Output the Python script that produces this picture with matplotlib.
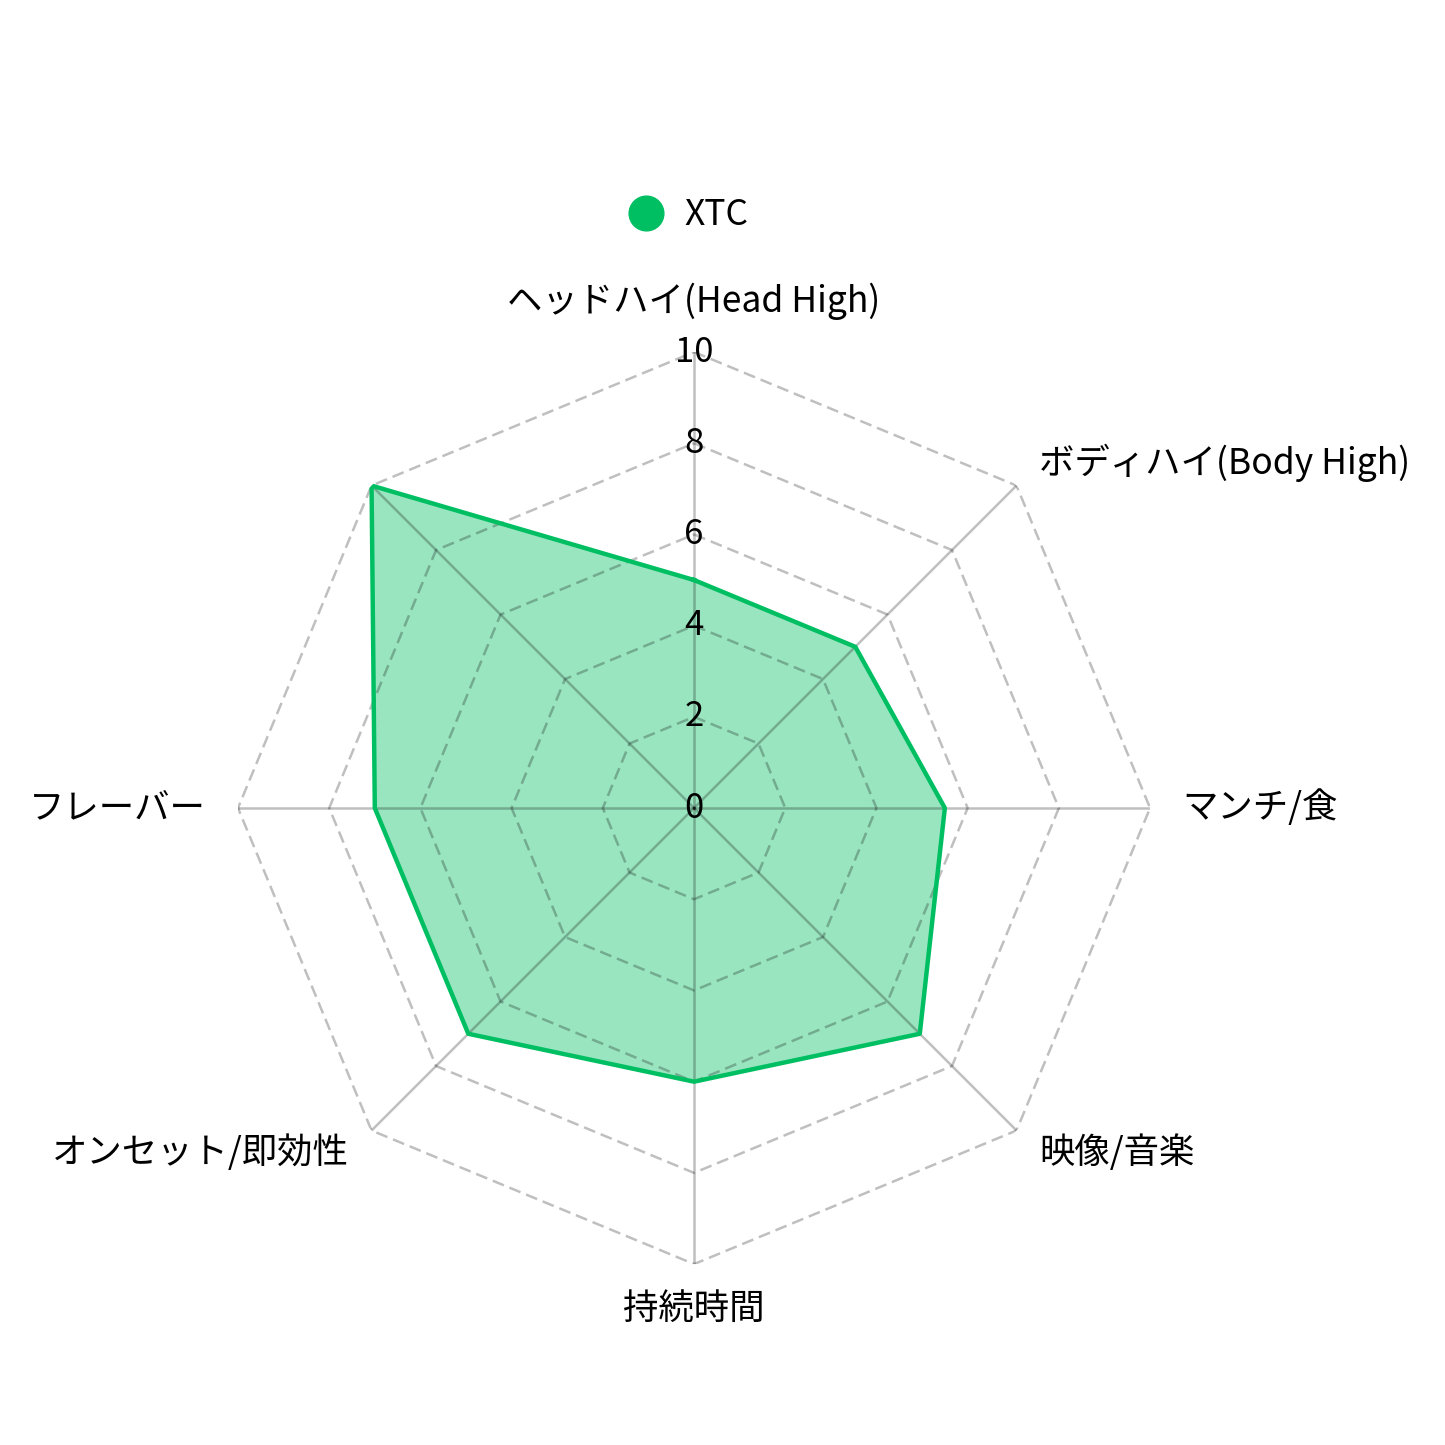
import numpy as np
import matplotlib.pyplot as plt
from matplotlib.lines import Line2D

plt.rcParams['font.family'] = ['Noto Sans CJK JP', 'DejaVu Sans']

categories = ["ヘッドハイ(Head High)", "ボディハイ(Body High)", "マンチ/食", "映像/音楽",
              "持続時間", "オンセット/即効性", "フレーバー", ""]
values = [5, 5, 5.5, 7, 6, 7, 7, 10]
ticks = [0, 2, 4, 6, 8, 10]
series_name = "XTC"
color = "#00BF63"

n = len(categories)
angles = np.linspace(0, 2 * np.pi, n, endpoint=False)

fig = plt.figure(figsize=(14.45, 14.45), dpi=100)
ax = fig.add_axes([0.1647, 0.1252, 0.6312, 0.6312], projection="polar")
ax.set_theta_zero_location("N")
ax.set_theta_direction(-1)
ax.set_ylim(0, 10)
ax.axis("off")

# data
closed = np.append(angles, angles[0])
vals = values + values[:1]
ax.fill(closed, vals, color=color, alpha=0.4, lw=0, zorder=2)
ax.plot(closed, vals, color=color, lw=3.2, zorder=4)

# grid polygons and spokes (drawn over the fill, semi-transparent)
for t in ticks[1:]:
    ax.plot(closed, [t] * (n + 1), color="black", alpha=0.25, lw=1.8,
            ls=(0, (4.8, 2.4)), zorder=3)
for a in angles:
    ax.plot([a, a], [0, 10], color="black", alpha=0.25, lw=1.8, zorder=3)

# tick labels
for t in ticks:
    ax.text(0, t, str(t), ha="center", va="center", fontsize=25, zorder=5)

# category labels
for a, lab in zip(angles, categories):
    deg = np.degrees(a) % 360
    if np.isclose(deg, 0):
        ha, va, r = "center", "bottom", 10.7
    elif np.isclose(deg, 180):
        ha, va, r = "center", "top", 10.6
    elif deg < 180:
        ha, va, r = "left", "center", 10.7
    else:
        ha, va, r = "right", "center", 10.7
    ax.text(a, r, lab, ha=ha, va=va, fontsize=25.5)

handle = Line2D([], [], marker="o", color=color, ls="none", markersize=25)
fig.legend([handle], [series_name], loc="center", bbox_to_anchor=(683 / 1445, 1 - 215 / 1445),
           frameon=False, fontsize=25.5, handletextpad=0.3, handlelength=1.6)

fig.savefig("out.png", dpi=100)
